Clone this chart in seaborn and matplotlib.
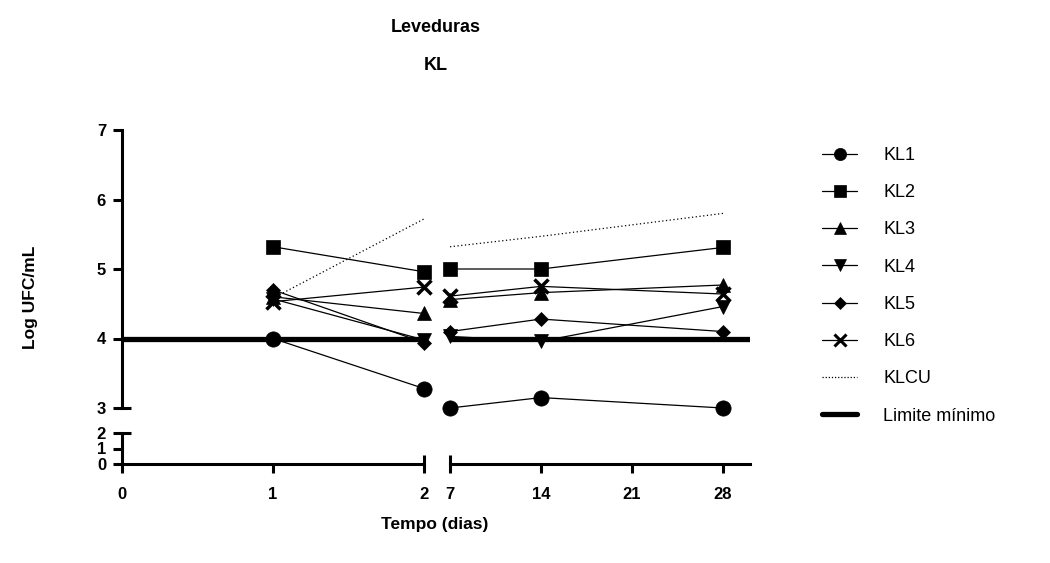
import matplotlib
matplotlib.use("Agg")
import matplotlib.pyplot as plt
import numpy as np
import pandas as pd
import seaborn as sns
from matplotlib.lines import Line2D

# Counts of yeast (log CFU/mL) over storage time
dias = [1, 2, 7, 14, 28]
kl1 = [4.00, 3.28, 3.00, 3.15, 3.00]
kl2 = [5.32, 4.96, 5.00, 5.00, 5.31]
kl3 = [4.60, 4.36, 4.56, 4.66, 4.77]
kl4 = [4.57, 3.98, 4.03, 3.96, 4.46]
kl5 = [4.70, 3.94, 4.10, 4.28, 4.10]
kl6 = [4.53, 4.74, 4.61, 4.75, 4.64]
klcu = [4.58, 5.72, 5.32, 5.47, 5.80]
limite_minimo = 4.0

series = ["KL1", "KL2", "KL3", "KL4", "KL5", "KL6"]
valores = [kl1, kl2, kl3, kl4, kl5, kl6]
marcadores = {"KL1": "o", "KL2": "s", "KL3": "^", "KL4": "v", "KL5": "D", "KL6": "x"}
tamanhos = {"KL1": 11, "KL2": 10.5, "KL3": 10, "KL4": 10, "KL5": 7.5, "KL6": 10}

xticks_esq = [0, 1, 2]
xticks_dir = [7, 14, 21, 28]

rows = []
for nome, vals in zip(series + ["KLCU"], valores + [klcu]):
    for d, v in zip(dias, vals):
        rows.append({"serie": nome, "dia": d, "valor": v,
                     "trecho": "inicio" if d <= 2 else "fim"})
df = pd.DataFrame(rows)

sns.set_theme(style="white")
plt.rcParams["font.family"] = ["Liberation Sans", "DejaVu Sans"]
plt.rcParams.update({"text.color": "black", "axes.labelcolor": "black",
                     "xtick.color": "black", "ytick.color": "black"})

W, H = 1050, 563
fig = plt.figure(figsize=(W / 100, H / 100), dpi=100)


def frac(x0, y0, x1, y1):
    return [x0 / W, 1 - y1 / H, (x1 - x0) / W, (y1 - y0) / H]


ax_tl = fig.add_axes(frac(122, 130, 424, 408))
ax_tr = fig.add_axes(frac(450, 130, 750, 408))
ax_bl = fig.add_axes(frac(122, 433, 424, 464))
ax_br = fig.add_axes(frac(450, 433, 750, 464))

lw_axis = 2.2
tick_len = 6.5
for ax, xl in [(ax_tl, (0, 2)), (ax_bl, (0, 2)),
               (ax_tr, (7, 7 + 300 / 13)), (ax_br, (7, 7 + 300 / 13))]:
    ax.set_xlim(*xl)
    ax.set_facecolor("none")
    ax.xaxis.remove_overlapping_locs = False
    ax.yaxis.remove_overlapping_locs = False
    for s in ax.spines.values():
        s.set_visible(False)
        s.set_linewidth(lw_axis)
        s.set_color("black")
    ax.tick_params(which="both", width=lw_axis, length=tick_len, color="black",
                   labelsize=12, labelcolor="black", direction="out",
                   bottom=True, left=True, top=False, right=False)

for ax, seg in [(ax_tl, "inicio"), (ax_tr, "fim")]:
    ax.set_ylim(3, 7)
    sub = df[df["trecho"] == seg]
    ax.axhline(limite_minimo, color="black", lw=3.8, zorder=2)
    cu = sub[sub["serie"] == "KLCU"]
    sns.lineplot(data=cu, x="dia", y="valor", ax=ax, color="black",
                 lw=0.9, linestyle=(0, (1, 2)), legend=False, zorder=3)
    for nome in series:
        d = sub[sub["serie"] == nome]
        sns.lineplot(data=d, x="dia", y="valor", ax=ax, color="black", lw=0.9,
                     marker=marcadores[nome], markersize=tamanhos[nome],
                     markeredgewidth=2.5 if nome == "KL6" else 0.5,
                     markeredgecolor="black", markerfacecolor="black",
                     legend=False, zorder=4, clip_on=False)
    ax.set_xlabel("")
    ax.set_ylabel("")
    ax.set_xticks([])

# upper y segment
ax_tl.spines["left"].set_visible(True)
ax_tl.set_yticks([3, 4, 5, 6, 7])
ax_tl.set_yticks([3], minor=True)
ax_tl.tick_params(axis="y", which="minor", direction="in", length=tick_len)
ax_tl.tick_params(axis="y", pad=5)
ax_tr.set_yticks([])

# lower y segment and x axis
ax_bl.set_ylim(0, 2)
ax_br.set_ylim(0, 2)
ax_bl.spines["left"].set_visible(True)
ax_bl.spines["bottom"].set_visible(True)
ax_br.spines["bottom"].set_visible(True)
ax_bl.set_yticks([0, 1, 2])
ax_bl.set_yticks([2], minor=True)
ax_bl.tick_params(axis="y", which="minor", direction="in", length=tick_len)
ax_bl.tick_params(axis="y", pad=5)
ax_br.set_yticks([])

ax_bl.set_xticks(xticks_esq)
ax_bl.set_xticks([2], minor=True)
ax_br.set_xticks(xticks_dir)
ax_br.set_xticks([7], minor=True)
for ax in (ax_bl, ax_br):
    ax.tick_params(axis="x", which="minor", direction="in", length=tick_len)
    ax.tick_params(axis="x", pad=10)

for ax in (ax_tl, ax_bl, ax_br):
    for lab in ax.get_xticklabels() + ax.get_yticklabels():
        lab.set_fontweight("bold")

# titles and axis labels
fig.text(436 / W, 1 - 28 / H, "Leveduras", ha="center", va="center",
         fontsize=13, fontweight="bold")
fig.text(436 / W, 1 - 65 / H, "KL", ha="center", va="center",
         fontsize=13, fontweight="bold")
fig.text(435 / W, 1 - 524 / H, "Tempo (dias)", ha="center", va="center",
         fontsize=12.5, fontweight="bold")
fig.text(30 / W, 1 - 297 / H, "Log UFC/mL", ha="center", va="center",
         rotation=90, fontsize=12.5, fontweight="bold")

# legend
handles = []
for nome in series:
    handles.append(Line2D([], [], color="black", lw=0.9, marker=marcadores[nome],
                          markersize=tamanhos[nome] * 0.8,
                          markeredgewidth=2.2 if nome == "KL6" else 0.5,
                          markerfacecolor="black", markeredgecolor="black"))
handles.append(Line2D([], [], color="black", lw=0.9, linestyle=(0, (1, 1.5))))
handles.append(Line2D([], [], color="black", lw=3.8))
labels = series + ["KLCU", "Limite mínimo"]
fig.legend(handles, labels, loc="upper left",
           bbox_to_anchor=(822 / W, 1 - 147 / H), frameon=False,
           fontsize=13, handlelength=1.95, handletextpad=1.45,
           labelspacing=1.12, borderaxespad=0, borderpad=0)

fig.savefig("out.png", dpi=100, facecolor="white")
